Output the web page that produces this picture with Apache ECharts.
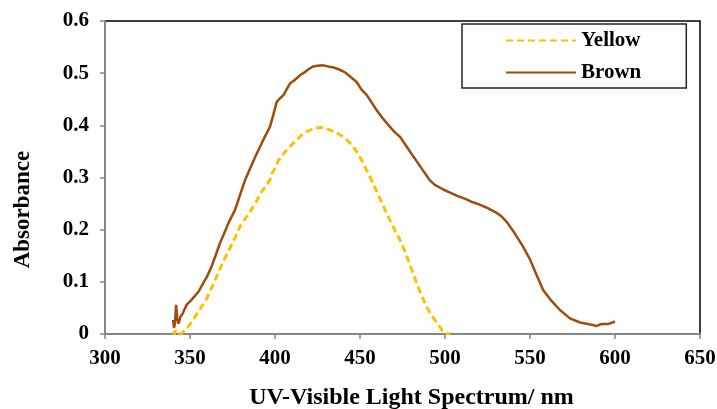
<!DOCTYPE html>
<html>
<head>
  <meta charset="UTF-8">
  <title>UV-Visible Absorbance</title>
  <script src="https://cdn.jsdelivr.net/npm/echarts@6/dist/echarts.min.js"></script>
  <style>
    html, body, #main { margin: 0; padding: 0; width: 717px; height: 409px; background: #fff; }
  </style>
</head>
<body>
  <div id="main"></div>
  <script>
    // wavelengths (nm) and absorbance
    const brownNm = [340, 340.6, 341.2, 341.8, 342.5, 343.3, 344.5, 345.5, 348, 351, 355, 358, 360, 362.5, 365, 367.6, 370, 372.5, 376.5, 380.4, 382.4, 385.3, 388, 391.2, 394, 397, 399, 401, 403, 405, 407, 408.8, 412, 414.7, 418, 420, 422.5, 425, 428.4, 431, 434.3, 437, 441, 444, 448, 451, 454, 457, 459.8, 463, 467.6, 471, 473.5, 477.5, 481, 484, 486.3, 488.2, 491, 494, 499, 503, 507.8, 512, 516, 519.6, 524, 527, 530.4, 533, 536.3, 541, 546, 550, 554, 557.8, 562, 567.6, 573.5, 579.4, 584, 587.3, 589, 591, 593.1, 596, 600];
    const brownAbs = [0.027, 0.012, 0.02, 0.056, 0.03, 0.02, 0.034, 0.038, 0.056, 0.066, 0.081, 0.099, 0.11, 0.128, 0.15, 0.174, 0.192, 0.212, 0.238, 0.276, 0.295, 0.317, 0.337, 0.359, 0.378, 0.397, 0.42, 0.445, 0.452, 0.458, 0.47, 0.48, 0.488, 0.496, 0.503, 0.508, 0.513, 0.514, 0.515, 0.513, 0.511, 0.508, 0.502, 0.494, 0.483, 0.468, 0.458, 0.443, 0.429, 0.415, 0.397, 0.385, 0.378, 0.359, 0.342, 0.328, 0.317, 0.308, 0.295, 0.286, 0.277, 0.271, 0.264, 0.259, 0.253, 0.249, 0.243, 0.238, 0.232, 0.226, 0.215, 0.193, 0.167, 0.143, 0.112, 0.084, 0.066, 0.046, 0.03, 0.022, 0.019, 0.017, 0.015, 0.018, 0.019, 0.019, 0.024];

    const yellowNm = [340, 340.8, 341.5, 342.5, 343.5, 344.5, 346, 349, 352, 354.9, 357, 359.8, 362, 364.7, 367, 369.6, 372, 374.5, 377, 379.4, 382, 385.3, 389, 392.2, 395, 397, 398.5, 400, 402, 405.9, 409, 412.7, 416, 418.6, 422, 426.5, 429, 432.4, 436, 440.2, 443, 446, 449, 452, 456, 460, 464, 468, 471, 474.5, 478, 481, 485.3, 489.2, 492, 494, 497, 499, 501, 503];
    const yellowAbs = [0.005, 0.0, 0.006, 0.001, 0.004, 0.0, 0.004, 0.014, 0.028, 0.043, 0.053, 0.068, 0.083, 0.103, 0.12, 0.139, 0.155, 0.171, 0.188, 0.206, 0.219, 0.234, 0.254, 0.273, 0.285, 0.295, 0.31, 0.317, 0.333, 0.349, 0.36, 0.372, 0.382, 0.388, 0.393, 0.396, 0.396, 0.391, 0.386, 0.378, 0.37, 0.359, 0.345, 0.327, 0.3, 0.272, 0.243, 0.216, 0.196, 0.174, 0.145, 0.118, 0.081, 0.052, 0.036, 0.027, 0.013, 0.004, 0.001, 0.0];

    const pairs = (xs, ys) => xs.map((x, i) => [x, ys[i]]);
    const font = 'Liberation Serif';
    const axisGray = '#868686';

    const chart = echarts.init(document.getElementById('main'));
    chart.setOption({
      animation: false,
      textStyle: { fontFamily: font },
      grid: {
        left: 105, right: 17, top: 21, bottom: 75,
        outerBoundsMode: 'none',
        show: true, borderColor: '#000', borderWidth: 1.5
      },
      legend: {
        orient: 'vertical',
        left: 462, top: 24,
        padding: [6, 45, 5, 43],
        itemWidth: 70, itemHeight: 16, itemGap: 11,
        borderColor: '#222', borderWidth: 1.5,
        itemStyle: { opacity: 0 },
        textStyle: { fontFamily: font, fontWeight: 'bold', fontSize: 21, lineHeight: 21, color: '#000' },
        data: ['Yellow', 'Brown']
      },
      xAxis: {
        type: 'value', min: 300, max: 650, interval: 50,
        name: 'UV-Visible Light Spectrum/ nm',
        nameLocation: 'middle', nameGap: 52,
        nameTextStyle: { fontFamily: font, fontWeight: 'bold', fontSize: 24, color: '#000', padding: [0, 0, 0, 18] },
        axisLine: { lineStyle: { color: axisGray, width: 2 } },
        axisTick: { show: true, inside: false, length: 5, lineStyle: { color: axisGray, width: 1.5 } },
        axisLabel: { margin: 14, fontFamily: font, fontWeight: 'bold', fontSize: 21, color: '#000' },
        splitLine: { show: false }
      },
      yAxis: {
        type: 'value', min: 0, max: 0.6, interval: 0.1,
        name: 'Absorbance',
        nameLocation: 'middle', nameGap: 70,
        nameTextStyle: { fontFamily: font, fontWeight: 'bold', fontSize: 23, color: '#000', padding: [0, 64, 0, 0] },
        axisLine: { show: true, lineStyle: { color: axisGray, width: 2 } },
        axisTick: { show: true, inside: false, length: 5, lineStyle: { color: axisGray, width: 1.5 } },
        axisLabel: { margin: 16, fontFamily: font, fontWeight: 'bold', fontSize: 21, color: '#000',
          formatter: v => (v === 0 ? '0' : v.toFixed(1)) },
        splitLine: { show: false }
      },
      series: [
        {
          name: 'Yellow', type: 'line', symbol: 'none', smooth: false,
          data: pairs(yellowNm, yellowAbs),
          lineStyle: { color: '#FFC000', width: 3, type: [7, 4] },
          itemStyle: { color: '#FFC000' },
          z: 2
        },
        {
          name: 'Brown', type: 'line', symbol: 'none', smooth: false,
          data: pairs(brownNm, brownAbs),
          lineStyle: { color: '#9E4D0C', width: 2.5 },
          itemStyle: { color: '#9E4D0C' },
          z: 3
        }
      ]
    });
  </script>
</body>
</html>
